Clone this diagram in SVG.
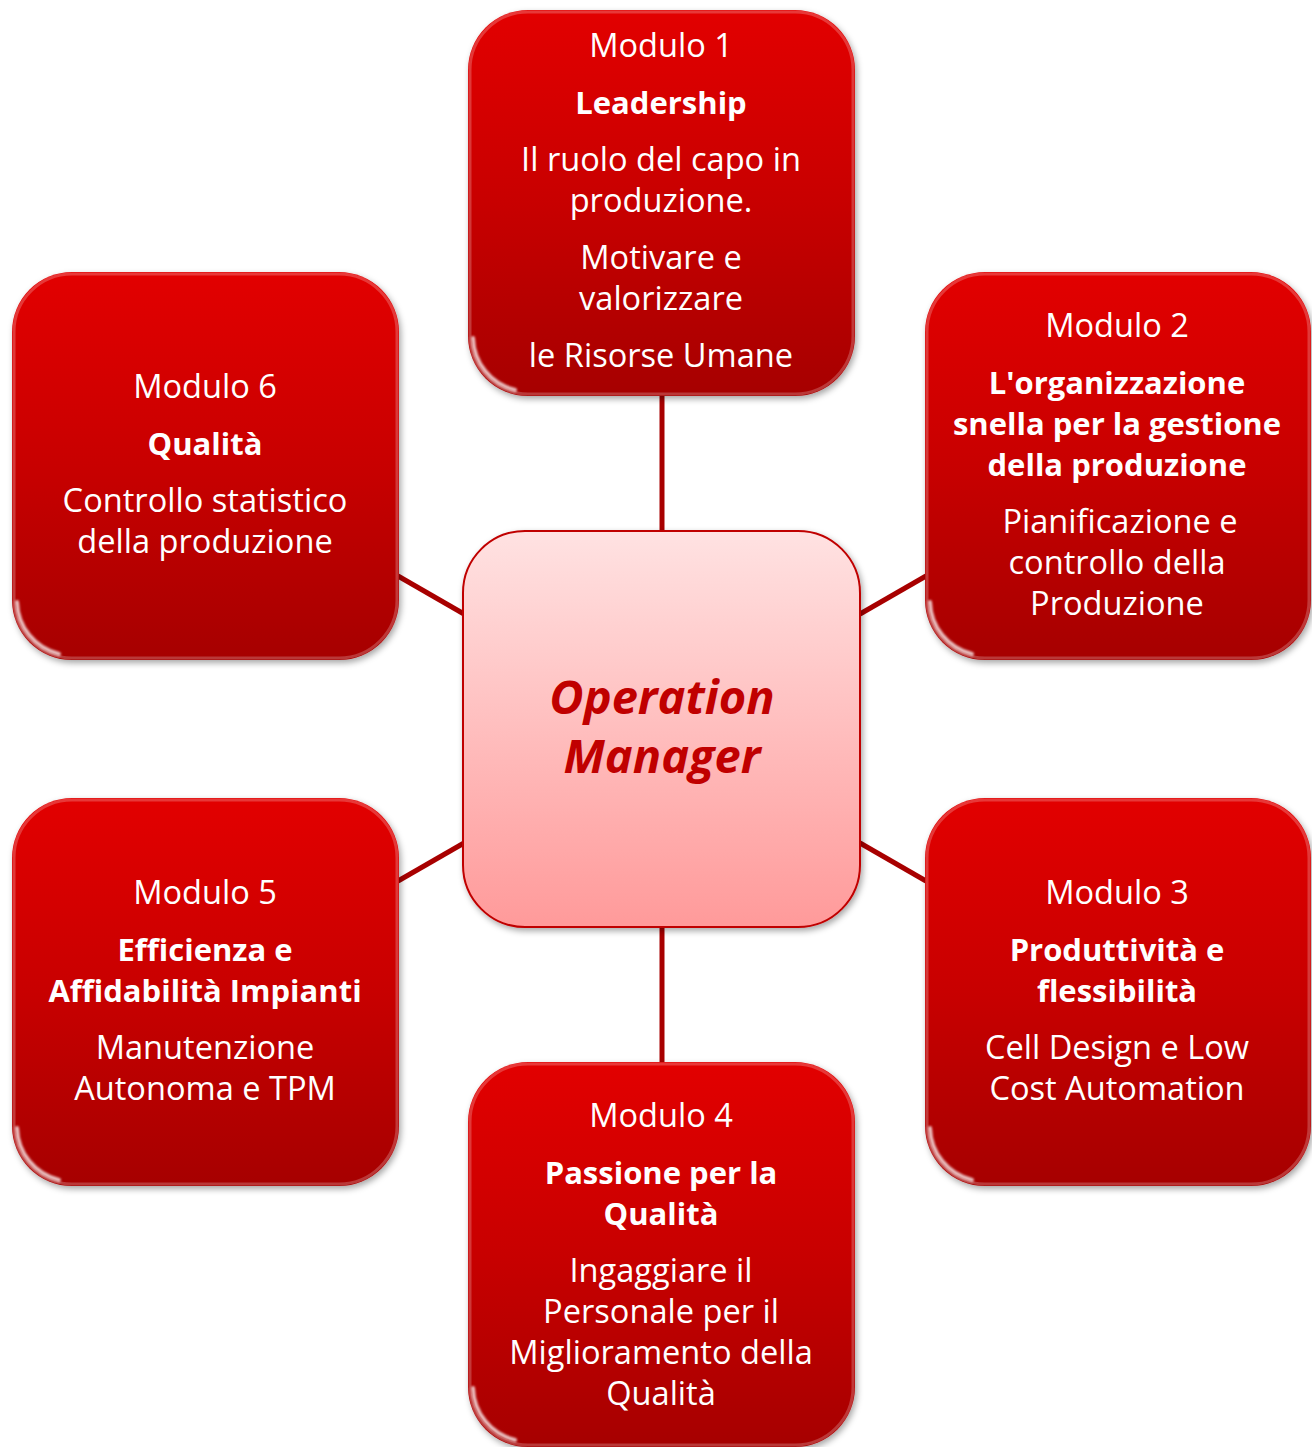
<svg xmlns="http://www.w3.org/2000/svg" width="1312" height="1447" viewBox="0 0 1312 1447">
<defs>
<linearGradient id="gRed" x1="0" y1="0" x2="0" y2="1">
<stop offset="0" stop-color="#e20000"/>
<stop offset="0.5" stop-color="#c80000"/>
<stop offset="1" stop-color="#a60000"/>
</linearGradient>
<linearGradient id="gPink" x1="0" y1="0" x2="0" y2="1">
<stop offset="0" stop-color="#ffe2e2"/>
<stop offset="1" stop-color="#ff9a9a"/>
</linearGradient>
<filter id="sh" x="-10%" y="-10%" width="120%" height="120%">
<feDropShadow dx="2" dy="3" stdDeviation="3" flood-color="#000" flood-opacity="0.35"/>
</filter>
<filter id="blur" x="-20%" y="-20%" width="140%" height="140%">
<feGaussianBlur stdDeviation="1.2"/>
</filter>
</defs>
<style>
.node{fill:url(#gRed);filter:url(#sh)}
.edge{fill:none;stroke:#ffffff;stroke-opacity:0.22;stroke-width:3}
.hi{fill:none;stroke:#ffffff;stroke-width:4;stroke-opacity:0.75;stroke-linecap:round;filter:url(#blur)}
.t{font-family:"Open Sans","Noto Sans","Liberation Sans",sans-serif;font-size:32.6px;fill:#ffffff;text-anchor:middle}
.b{font-weight:bold;font-size:31px}
.c{fill:url(#gPink);stroke:#c00000;stroke-width:2;filter:url(#sh)}
.ct{font-family:"Open Sans","Noto Sans","Liberation Sans",sans-serif;font-size:47px;font-weight:bold;font-style:italic;fill:#c00000;text-anchor:middle}
.conn{stroke:#a80000;stroke-width:5;fill:none}
</style>
<g id="connectors">
<line class="conn" x1="662" y1="394" x2="662" y2="532"/>
<line class="conn" x1="662" y1="926" x2="662" y2="1064"/>
<line class="conn" x1="398" y1="576" x2="464" y2="614"/>
<line class="conn" x1="860" y1="614" x2="926" y2="576"/>
<line class="conn" x1="398" y1="881" x2="464" y2="843"/>
<line class="conn" x1="860" y1="843" x2="926" y2="881"/>
</g>
<g id="center">
<rect class="c" x="463" y="531" width="397" height="396" rx="62"/>
<text class="ct" x="662" y="714">Operation</text>
<text class="ct" x="662" y="773">Manager</text>
</g>
<g id="m1">
<rect class="node" x="468" y="10" width="387" height="386" rx="60"/>
<rect class="edge" x="470" y="12" width="383" height="382" rx="58"/>
<path class="hi" d="M473 338 A55 55 0 0 0 515 390"/>
<text class="t" x="661" y="57">Modulo 1</text>
<text class="t b" x="661" y="114">Leadership</text>
<text class="t" x="661" y="171">Il ruolo del capo in</text>
<text class="t" x="661" y="212">produzione.</text>
<text class="t" x="661" y="269">Motivare e</text>
<text class="t" x="661" y="310">valorizzare</text>
<text class="t" x="661" y="367">le Risorse Umane</text>
</g>
<g id="m2">
<rect class="node" x="925" y="272" width="386" height="388" rx="60"/>
<rect class="edge" x="927" y="274" width="382" height="384" rx="58"/>
<path class="hi" d="M930 602 A55 55 0 0 0 972 654"/>
<text class="t" x="1117" y="337">Modulo 2</text>
<text class="t b" x="1117" y="394">L'organizzazione</text>
<text class="t b" x="1117" y="435">snella per la gestione</text>
<text class="t b" x="1117" y="476">della produzione</text>
<text class="t" x="1120" y="533">Pianificazione e</text>
<text class="t" x="1117" y="574">controllo della</text>
<text class="t" x="1117" y="615">Produzione</text>
</g>
<g id="m3">
<rect class="node" x="925" y="798" width="386" height="388" rx="60"/>
<rect class="edge" x="927" y="800" width="382" height="384" rx="58"/>
<path class="hi" d="M930 1128 A55 55 0 0 0 972 1180"/>
<text class="t" x="1117" y="904">Modulo 3</text>
<text class="t b" x="1117" y="961">Produttività e</text>
<text class="t b" x="1117" y="1002">flessibilità</text>
<text class="t" x="1117" y="1059">Cell Design e Low</text>
<text class="t" x="1117" y="1100">Cost Automation</text>
</g>
<g id="m4">
<rect class="node" x="468" y="1062" width="387" height="385" rx="60"/>
<rect class="edge" x="470" y="1064" width="383" height="381" rx="58"/>
<path class="hi" d="M473 1388 A55 55 0 0 0 515 1440"/>
<text class="t" x="661" y="1127">Modulo 4</text>
<text class="t b" x="661" y="1184">Passione per la</text>
<text class="t b" x="661" y="1225">Qualità</text>
<text class="t" x="661" y="1282">Ingaggiare il</text>
<text class="t" x="661" y="1323">Personale per il</text>
<text class="t" x="661" y="1364">Miglioramento della</text>
<text class="t" x="661" y="1405">Qualità</text>
</g>
<g id="m5">
<rect class="node" x="12" y="798" width="387" height="388" rx="60"/>
<rect class="edge" x="14" y="800" width="383" height="384" rx="58"/>
<path class="hi" d="M17 1128 A55 55 0 0 0 59 1180"/>
<text class="t" x="205" y="904">Modulo 5</text>
<text class="t b" x="205" y="961">Efficienza e</text>
<text class="t b" x="205" y="1002">Affidabilità Impianti</text>
<text class="t" x="205" y="1059">Manutenzione</text>
<text class="t" x="205" y="1100">Autonoma e TPM</text>
</g>
<g id="m6">
<rect class="node" x="12" y="272" width="387" height="388" rx="60"/>
<rect class="edge" x="14" y="274" width="383" height="384" rx="58"/>
<path class="hi" d="M17 602 A55 55 0 0 0 59 654"/>
<text class="t" x="205" y="398">Modulo 6</text>
<text class="t b" x="205" y="455">Qualità</text>
<text class="t" x="205" y="512">Controllo statistico</text>
<text class="t" x="205" y="553">della produzione</text>
</g>
</svg>
